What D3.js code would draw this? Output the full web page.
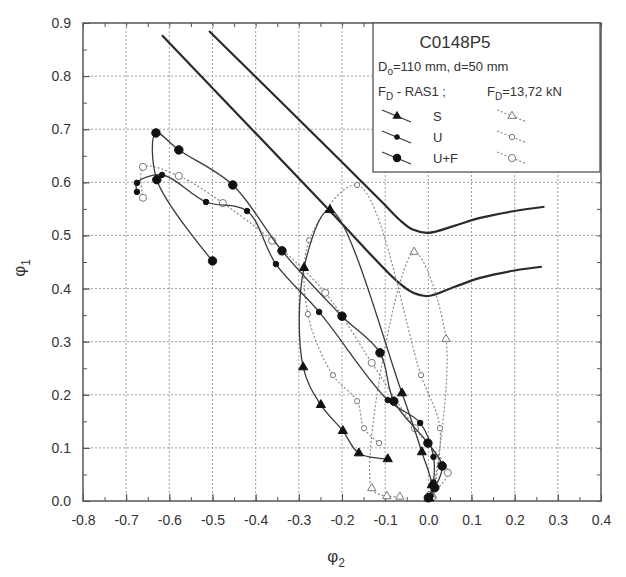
<!DOCTYPE html>
<html>
<head>
<meta charset="utf-8">
<script src="https://cdn.jsdelivr.net/npm/d3@7"></script>
<style>
  body { margin: 0; background: #fff; }
  text { font-family: "Liberation Sans", Arial, sans-serif; fill: #333; }
</style>
</head>
<body>
<div id="chart"></div>
<script>
const width = 626;
const height = 577;
const margin = { top: 23, right: 25, bottom: 76, left: 83 };

// tick values
const xTicks = [-0.8, -0.7, -0.6, -0.5, -0.4, -0.3, -0.2, -0.1, 0.0, 0.1, 0.2, 0.3, 0.4];
const yTicks = [0.0, 0.1, 0.2, 0.3, 0.4, 0.5, 0.6, 0.7, 0.8, 0.9];

// boundary curves [phi2, phi1]
const boundLow = [[-0.617, 0.877], [-0.23, 0.548], [-0.07, 0.412], [-0.035, 0.392], [0, 0.386],
  [0.06, 0.403], [0.12, 0.42], [0.2, 0.434], [0.263, 0.441]];
const boundHigh = [[-0.508, 0.885], [-0.205, 0.642], [-0.105, 0.561], [-0.066, 0.529], [-0.036, 0.511],
  [0, 0.505], [0.06, 0.518], [0.12, 0.533], [0.2, 0.546], [0.269, 0.554]];

// F_D - RAS1 (solid)
const solidS = [[0.002, 0.005], [0.008, 0.03], [-0.015, 0.092], [-0.061, 0.203], [-0.228, 0.548],
  [-0.288, 0.439], [-0.29, 0.252], [-0.249, 0.181], [-0.198, 0.132], [-0.161, 0.09], [-0.094, 0.079]];
const solidU = [[0.005, 0.01], [0.012, 0.035], [0.012, 0.083], [-0.019, 0.147], [-0.094, 0.19],
  [-0.253, 0.356], [-0.353, 0.446], [-0.42, 0.546], [-0.515, 0.563], [-0.617, 0.614],
  [-0.675, 0.599], [-0.675, 0.582]];
const solidUF = [[0.0, 0.006], [0.015, 0.025], [0.032, 0.066], [-0.001, 0.109], [-0.08, 0.188],
  [-0.112, 0.279], [-0.2, 0.348], [-0.339, 0.471], [-0.453, 0.595], [-0.578, 0.661],
  [-0.631, 0.693], [-0.629, 0.605], [-0.5, 0.452]];

// F_D = 13,72 kN (dashed)
const dashS = [[0.01, 0.01], [0.041, 0.305], [-0.033, 0.469], [-0.131, 0.024], [-0.096, 0.009], [-0.066, 0.008]];
const dashU = [[0.01, 0.005], [0.027, 0.137], [-0.017, 0.237], [-0.165, 0.595], [-0.276, 0.491],
  [-0.279, 0.352], [-0.221, 0.237], [-0.165, 0.188], [-0.149, 0.137], [-0.114, 0.109]];
const dashUF = [[0.005, 0.012], [0.045, 0.053], [-0.031, 0.137], [-0.131, 0.26], [-0.239, 0.392],
  [-0.362, 0.49], [-0.476, 0.561], [-0.578, 0.612], [-0.661, 0.629], [-0.661, 0.571]];

const svg = d3.select("#chart")
  .append("svg")
  .attr("width", width)
  .attr("height", height);

const x = d3.scaleLinear().domain([-0.8, 0.4]).range([margin.left, width - margin.right]);
const y = d3.scaleLinear().domain([0, 0.9]).range([height - margin.bottom, margin.top]);

const x0 = margin.left, x1 = width - margin.right;
const y0 = height - margin.bottom, y1 = margin.top;

// grid
svg.append("g")
  .selectAll("line")
  .data(xTicks.slice(1, -1))
  .join("line")
  .attr("x1", d => x(d)).attr("x2", d => x(d))
  .attr("y1", y0).attr("y2", y1)
  .attr("stroke", "#a0a0a0").attr("stroke-dasharray", "2,2").attr("stroke-width", 1);
svg.append("g")
  .selectAll("line")
  .data(yTicks.slice(1, -1))
  .join("line")
  .attr("y1", d => y(d)).attr("y2", d => y(d))
  .attr("x1", x0).attr("x2", x1)
  .attr("stroke", "#a0a0a0").attr("stroke-dasharray", "2,2").attr("stroke-width", 1);

// axes, ticks pointing inward on all sides
const minorX = d3.range(-0.8, 0.401, 0.05);
const minorY = d3.range(0, 0.901, 0.05);
const fmt = d => d.toFixed(1);

svg.append("g")
  .attr("transform", `translate(0,${y0})`)
  .call(d3.axisBottom(x).tickValues(minorX).tickSize(-4).tickFormat(""))
  .call(g => g.select(".domain").remove());
svg.append("g")
  .attr("transform", `translate(0,${y0})`)
  .call(d3.axisBottom(x).tickValues(xTicks).tickSize(-7).tickPadding(14).tickFormat(fmt))
  .call(g => g.select(".domain").remove())
  .call(g => g.selectAll("text").attr("font-size", 14).attr("fill", "#444"));
svg.append("g")
  .attr("transform", `translate(0,${y1})`)
  .call(d3.axisTop(x).tickValues(minorX).tickSize(-4).tickFormat(""))
  .call(g => g.select(".domain").remove());

svg.append("g")
  .attr("transform", `translate(${x0},0)`)
  .call(d3.axisLeft(y).tickValues(minorY).tickSize(-4).tickFormat(""))
  .call(g => g.select(".domain").remove());
svg.append("g")
  .attr("transform", `translate(${x0},0)`)
  .call(d3.axisLeft(y).tickValues(yTicks).tickSize(-7).tickPadding(12).tickFormat(fmt))
  .call(g => g.select(".domain").remove())
  .call(g => g.selectAll("text").attr("font-size", 14).attr("fill", "#444"));
svg.append("g")
  .attr("transform", `translate(${x1},0)`)
  .call(d3.axisRight(y).tickValues(minorY).tickSize(-4).tickFormat(""))
  .call(g => g.select(".domain").remove());
svg.selectAll(".tick line").attr("stroke", "#555");

svg.append("rect")
  .attr("x", x0).attr("y", y1)
  .attr("width", x1 - x0).attr("height", y0 - y1)
  .attr("fill", "none").attr("stroke", "#555").attr("stroke-width", 1.5);

// boundary curves
const boundLine = d3.line().x(d => x(d[0])).y(d => y(d[1])).curve(d3.curveCatmullRom.alpha(0.5));
[boundLow, boundHigh].forEach(b => {
  svg.append("path").datum(b)
    .attr("d", boundLine)
    .attr("fill", "none").attr("stroke", "#2a2a2a").attr("stroke-width", 2.2);
});

// series
const seriesLine = d3.line().x(d => x(d[0])).y(d => y(d[1])).curve(d3.curveCatmullRom.alpha(0.5));
const series = [
  { data: dashS, dashed: true, shape: d3.symbolTriangle, size: 30 },
  { data: dashU, dashed: true, shape: d3.symbolCircle, size: 22 },
  { data: dashUF, dashed: true, shape: d3.symbolCircle, size: 40 },
  { data: solidS, dashed: false, shape: d3.symbolTriangle, size: 36 },
  { data: solidU, dashed: false, shape: d3.symbolCircle, size: 24 },
  { data: solidUF, dashed: false, shape: d3.symbolCircle, size: 56 }
];

series.forEach(s => {
  svg.append("path").datum(s.data)
    .attr("d", seriesLine)
    .attr("fill", "none")
    .attr("stroke", s.dashed ? "#8a8a8a" : "#3a3a3a")
    .attr("stroke-width", s.dashed ? 1.2 : 1.3)
    .attr("stroke-dasharray", s.dashed ? "2,2" : null);
  svg.append("g").selectAll("path")
    .data(s.data)
    .join("path")
    .attr("transform", d => `translate(${x(d[0])},${y(d[1])})`)
    .attr("d", d3.symbol(s.shape, s.size))
    .attr("fill", s.dashed ? "#fff" : "#111")
    .attr("stroke", s.dashed ? "#777" : "#111")
    .attr("stroke-width", 1);
});

// legend
const lg = svg.append("g");
lg.append("rect")
  .attr("x", 373).attr("y", y1).attr("width", 227).attr("height", 149)
  .attr("fill", "#fff").attr("stroke", "#555").attr("stroke-width", 1.3);
lg.append("text").attr("x", 455).attr("y", 48).attr("text-anchor", "middle")
  .attr("font-size", 17).text("C0148P5");
const t2 = lg.append("text").attr("x", 378).attr("y", 71).attr("font-size", 13);
t2.append("tspan").text("D");
t2.append("tspan").attr("dy", 4).attr("font-size", 10).text("o");
t2.append("tspan").attr("dy", -4).text("=110 mm, d=50 mm");
const t3 = lg.append("text").attr("x", 378).attr("y", 96).attr("font-size", 13);
t3.append("tspan").text("F");
t3.append("tspan").attr("dy", 4).attr("font-size", 10).text("D");
t3.append("tspan").attr("dy", -4).text(" - RAS1 ;");
const t4 = lg.append("text").attr("x", 487).attr("y", 96).attr("font-size", 13);
t4.append("tspan").text("F");
t4.append("tspan").attr("dy", 4).attr("font-size", 10).text("D");
t4.append("tspan").attr("dy", -4).text("=13,72 kN");

const legendRows = ["S", "U", "U+F"];
const legendY = [116, 137, 158];
legendRows.forEach((name, i) => {
  const ly = legendY[i];
  const solid = series[3 + i], dashed = series[i];
  lg.append("line").attr("x1", 382).attr("y1", ly - 6).attr("x2", 411).attr("y2", ly + 6)
    .attr("stroke", "#3a3a3a").attr("stroke-width", 1.3);
  lg.append("path").attr("transform", `translate(397,${ly})`)
    .attr("d", d3.symbol(solid.shape, solid.size)).attr("fill", "#111");
  lg.append("text").attr("x", 433).attr("y", ly + 5).attr("font-size", 13).text(name);
  lg.append("line").attr("x1", 497).attr("y1", ly - 6).attr("x2", 527).attr("y2", ly + 6)
    .attr("stroke", "#8a8a8a").attr("stroke-width", 1.2).attr("stroke-dasharray", "2,2");
  lg.append("path").attr("transform", `translate(512,${ly})`)
    .attr("d", d3.symbol(dashed.shape, dashed.size)).attr("fill", "#fff").attr("stroke", "#777");
});

// axis titles
const xt = svg.append("text").attr("x", 336).attr("y", 562).attr("text-anchor", "middle").attr("font-size", 17);
xt.append("tspan").text("φ");
xt.append("tspan").attr("dy", 5).attr("font-size", 12).text("2");
const yt = svg.append("text").attr("transform", "translate(25,268) rotate(-90)")
  .attr("text-anchor", "middle").attr("font-size", 17);
yt.append("tspan").text("φ");
yt.append("tspan").attr("dy", 5).attr("font-size", 12).text("1");
</script>
</body>
</html>
